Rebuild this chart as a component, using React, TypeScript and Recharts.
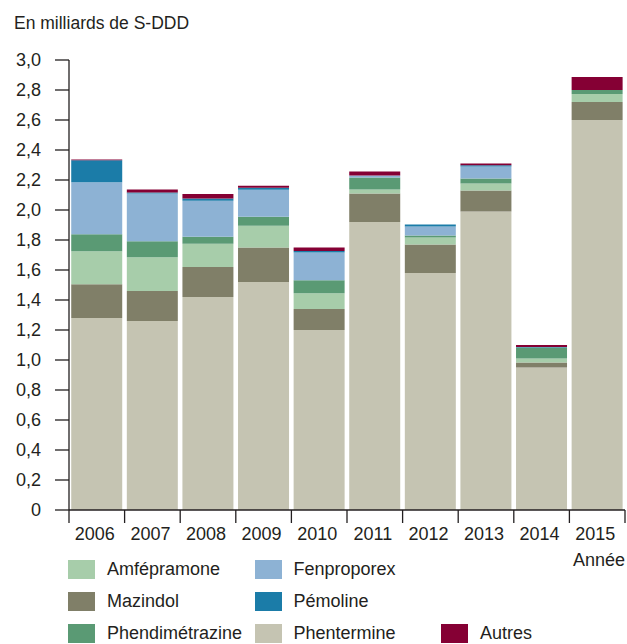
import React from 'react';
import { BarChart, Bar, XAxis, YAxis } from 'recharts';

const years = ['2006', '2007', '2008', '2009', '2010', '2011', '2012', '2013', '2014', '2015'];

// en milliards de S-DDD, du bas vers le haut de la pile
const phentermine = [1.28, 1.26, 1.42, 1.52, 1.2, 1.92, 1.58, 1.99, 0.95, 2.6];
const mazindol = [0.225, 0.2, 0.2, 0.23, 0.14, 0.19, 0.19, 0.14, 0.033, 0.12];
const amfepramone = [0.22, 0.225, 0.155, 0.145, 0.105, 0.027, 0.047, 0.046, 0.027, 0.053];
const phendimetrazine = [0.113, 0.106, 0.046, 0.06, 0.086, 0.08, 0.013, 0.034, 0.073, 0.027];
const fenproporex = [0.347, 0.319, 0.24, 0.18, 0.185, 0.013, 0.06, 0.08, 0, 0];
const pemoline = [0.146, 0.007, 0.015, 0.013, 0.01, 0, 0.013, 0.008, 0.004, 0];
const autres = [0.005, 0.02, 0.03, 0.013, 0.024, 0.027, 0, 0.012, 0.013, 0.086];

const yTicks = [0, 0.2, 0.4, 0.6, 0.8, 1.0, 1.2, 1.4, 1.6, 1.8, 2.0, 2.2, 2.4, 2.6, 2.8, 3.0];

const SERIES = [
  { key: 'phentermine', name: 'Phentermine', color: '#c5c4b2', values: phentermine },
  { key: 'mazindol', name: 'Mazindol', color: '#807f68', values: mazindol },
  { key: 'amfepramone', name: 'Amfépramone', color: '#a7cdaa', values: amfepramone },
  { key: 'phendimetrazine', name: 'Phendimétrazine', color: '#5a9a74', values: phendimetrazine },
  { key: 'fenproporex', name: 'Fenproporex', color: '#8db2d4', values: fenproporex },
  { key: 'pemoline', name: 'Pémoline', color: '#1b7ca8', values: pemoline },
  { key: 'autres', name: 'Autres', color: '#850034', values: autres },
];

// legend grid as in the original (rows x columns)
const LEGEND_ROWS = [
  ['amfepramone', 'fenproporex', null],
  ['mazindol', 'pemoline', null],
  ['phendimetrazine', 'phentermine', 'autres'],
];

const data = years.map((year, i) => {
  const row: Record<string, number | string> = { year };
  SERIES.forEach((s) => {
    row[s.key] = s.values[i];
  });
  return row;
});

const FONT = "'Liberation Sans', Arial, sans-serif";
const INK = '#231f20';
const W = 627;
const H = 644;
const Y_AXIS_W = 69;
const MARGIN = { top: 60, right: 2, left: 0, bottom: 75 };
const BAND = (W - Y_AXIS_W - MARGIN.left - MARGIN.right) / years.length;

const fmt = (v: number) => (v === 0 ? '0' : v.toFixed(1).replace('.', ','));

function YearTick(props: any) {
  const { x, y, payload, index } = props;
  const last = index === years.length - 1;
  return (
    <g>
      <line x1={x - BAND / 2} x2={x - BAND / 2} y1={y} y2={y + 13} stroke={INK} strokeWidth={1.3} />
      {last && <line x1={x + BAND / 2} x2={x + BAND / 2} y1={y} y2={y + 13} stroke={INK} strokeWidth={1.3} />}
      <text x={x - 2} y={y + 29.5} textAnchor="middle" fontSize={18} fontFamily={FONT} fill={INK}>
        {payload.value}
      </text>
      {last && (
        <text x={x + BAND / 2} y={y + 56} textAnchor="end" fontSize={18} fontFamily={FONT} fill={INK}>
          Année
        </text>
      )}
    </g>
  );
}

export default function App() {
  const byKey = Object.fromEntries(SERIES.map((s) => [s.key, s]));
  return (
    <div style={{ position: 'absolute', left: 0, top: 0, width: W, height: H, background: '#fff', fontFamily: FONT, color: INK }}>
      <div style={{ position: 'absolute', left: 14, top: 13, fontSize: 17.5, lineHeight: '20px' }}>En milliards de S-DDD</div>
      <BarChart width={W} height={H} data={data} margin={MARGIN} barCategoryGap="4%">
        <XAxis
          dataKey="year"
          tick={<YearTick />}
          tickLine={false}
          tickSize={0}
          tickMargin={0}
          axisLine={{ stroke: INK, strokeWidth: 1.3 }}
          interval={0}
          height={59}
        />
        <YAxis
          width={Y_AXIS_W}
          domain={[0, 3]}
          ticks={yTicks}
          interval={0}
          tickFormatter={fmt}
          tickSize={14}
          tickMargin={14}
          axisLine={{ stroke: INK, strokeWidth: 1.3 }}
          tickLine={{ stroke: INK, strokeWidth: 1.3 }}
          tick={{ fill: INK, fontSize: 18, fontFamily: FONT }}
        />
        {SERIES.map((s) => (
          <Bar key={s.key} dataKey={s.key} name={s.name} stackId="a" fill={s.color} isAnimationActive={false} />
        ))}
      </BarChart>
      {LEGEND_ROWS.map((row, ri) =>
        row.map((k, ci) =>
          k ? (
            <div
              key={k}
              style={{
                position: 'absolute',
                left: 68 + ci * 186.5,
                top: 560 + ri * 32,
                display: 'flex',
                alignItems: 'center',
                fontSize: 18,
                lineHeight: '19px',
                whiteSpace: 'nowrap',
              }}
            >
              <span style={{ display: 'inline-block', width: 27, height: 19, background: byKey[k].color, marginRight: 12 }} />
              <span>{byKey[k].name}</span>
            </div>
          ) : null
        )
      )}
    </div>
  );
}
